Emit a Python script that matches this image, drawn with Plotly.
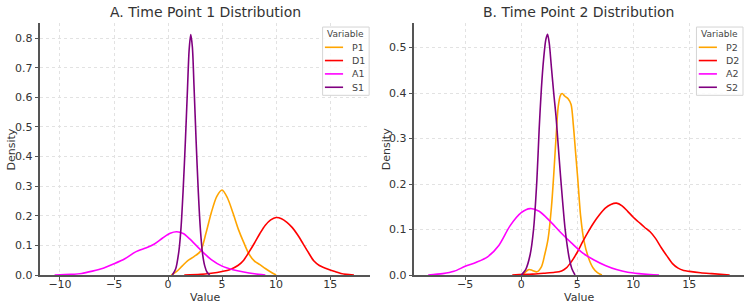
import plotly.graph_objects as go

# ---------------- data ----------------
names_tp1 = ["P1", "D1", "A1", "S1"]
names_tp2 = ["P2", "D2", "A2", "S2"]
series_colors = ["#FFA500", "#FF0000", "#FF00FF", "#800080"]

p1_x = [0.3, 0.8, 1.3, 1.8, 2.4, 3.0, 3.5, 4.0, 4.5, 5.0, 5.5, 6.0, 6.5, 7.0, 7.5, 8.0, 8.5, 9.0, 9.5, 10.0]
p1_y = [0.0, 0.012, 0.03, 0.048, 0.062, 0.08, 0.14, 0.21, 0.265, 0.287, 0.26, 0.21, 0.155, 0.11, 0.07, 0.047, 0.035, 0.022, 0.01, 0.0]

d1_x = [1.5, 3, 4, 5, 5.7, 6.5, 7, 7.5, 8, 8.5, 9, 9.5, 10, 10.5, 11, 11.5, 12, 12.5, 13, 13.5, 14, 14.5, 15, 15.5, 16, 16.5, 17.2]
d1_y = [0.0, 0.002, 0.006, 0.012, 0.018, 0.033, 0.05, 0.078, 0.108, 0.14, 0.168, 0.186, 0.194, 0.19, 0.178, 0.16, 0.135, 0.105, 0.075, 0.047, 0.032, 0.024, 0.017, 0.011, 0.005, 0.002, 0.0]

a1_x = [-10.5, -9, -8, -7, -6, -5, -4, -3, -2, -1.3, -0.5, 0.2, 0.8, 1.4, 2, 3, 4, 5, 6, 7, 8, 9]
a1_y = [0.0, 0.002, 0.005, 0.013, 0.023, 0.038, 0.055, 0.078, 0.092, 0.104, 0.125, 0.141, 0.146, 0.14, 0.122, 0.085, 0.052, 0.030, 0.018, 0.010, 0.004, 0.0]

s1_x = [0.4, 0.7, 1.0, 1.2, 1.4, 1.6, 1.8, 1.95, 2.1, 2.25, 2.4, 2.6, 2.8, 3.0, 3.2, 3.4, 3.6, 3.85]
s1_y = [0.0, 0.02, 0.08, 0.16, 0.29, 0.45, 0.63, 0.76, 0.812, 0.77, 0.64, 0.45, 0.28, 0.15, 0.07, 0.03, 0.01, 0.0]

p2_x = [0.1, 0.4, 0.7, 1.0, 1.4, 1.8, 2.1, 2.4, 2.7, 2.9, 3.1, 3.3, 3.5, 3.65, 3.9, 4.2, 4.45, 4.65, 4.85, 5.05, 5.3, 5.6, 6.0, 6.4, 6.8, 7.2]
p2_y = [0.0, 0.007, 0.012, 0.010, 0.007, 0.018, 0.045, 0.08, 0.15, 0.22, 0.30, 0.37, 0.395, 0.399, 0.393, 0.387, 0.375, 0.33, 0.27, 0.21, 0.13, 0.075, 0.038, 0.016, 0.005, 0.0]

d2_x = [-0.8, 1, 2, 3, 3.6, 4.0, 4.5, 5, 5.5, 6, 6.5, 7, 7.5, 8, 8.5, 9, 9.5, 10, 10.5, 11, 11.5, 12, 12.5, 13, 13.5, 14, 14.5, 15, 16, 17, 18.6]
d2_y = [0.0, 0.002, 0.004, 0.006, 0.009, 0.015, 0.03, 0.050, 0.074, 0.096, 0.116, 0.133, 0.147, 0.155, 0.158, 0.152, 0.14, 0.127, 0.116, 0.105, 0.095, 0.08, 0.06, 0.042, 0.025, 0.015, 0.010, 0.008, 0.005, 0.003, 0.0]

a2_x = [-8.3, -7, -6, -5, -4, -3, -2, -1, 0, 0.8, 1.6, 2.5, 3.5, 4.5, 5.5, 6.5, 7.5, 8.5, 9.5, 10.5, 11.5, 12.3]
a2_y = [0.0, 0.003, 0.008, 0.019, 0.028, 0.040, 0.065, 0.108, 0.137, 0.146, 0.140, 0.120, 0.094, 0.070, 0.048, 0.033, 0.021, 0.012, 0.006, 0.003, 0.001, 0.0]

s2_x = [0.0, 0.4, 0.8, 1.1, 1.4, 1.6, 1.8, 2.0, 2.2, 2.35, 2.5, 2.7, 2.9, 3.1, 3.3, 3.5, 3.7, 3.9, 4.1, 4.3, 4.55, 4.8]
s2_y = [0.0, 0.012, 0.045, 0.10, 0.21, 0.32, 0.41, 0.475, 0.518, 0.529, 0.51, 0.455, 0.40, 0.35, 0.285, 0.22, 0.16, 0.105, 0.065, 0.035, 0.012, 0.0]

panel_titles = ["A. Time Point 1 Distribution", "B. Time Point 2 Distribution"]
legend_title = "Variable"
x_label = "Value"
y_label = "Density"

x_ticks_1 = [-10, -5, 0, 5, 10, 15]
x_ticks_2 = [-5, 0, 5, 10, 15]
y_ticks_1 = [0.0, 0.1, 0.2, 0.3, 0.4, 0.5, 0.6, 0.7, 0.8]
y_ticks_2 = [0.0, 0.1, 0.2, 0.3, 0.4, 0.5]

tp1 = [(p1_x, p1_y), (d1_x, d1_y), (a1_x, a1_y), (s1_x, s1_y)]
tp2 = [(p2_x, p2_y), (d2_x, d2_y), (a2_x, a2_y), (s2_x, s2_y)]

# ---------------- figure ----------------
W, H = 753, 308
FONT = "DejaVu Sans"
TXT = "#333333"
AX = "#555555"

# plot-area geometry in pixels
L, R, T, B = 40.0, 743.7, 22.7, 274.7
GAP_L, GAP_R = 370.0, 413.7
PW = R - L

fig = go.Figure()

for (xs, ys), nm, col in zip(tp1, names_tp1, series_colors):
    fig.add_trace(go.Scatter(x=xs, y=ys, mode="lines", name=nm, showlegend=False,
                             line=dict(color=col, width=1.6, shape="spline", smoothing=0.8),
                             xaxis="x", yaxis="y"))
for (xs, ys), nm, col in zip(tp2, names_tp2, series_colors):
    fig.add_trace(go.Scatter(x=xs, y=ys, mode="lines", name=nm, showlegend=False,
                             line=dict(color=col, width=1.6, shape="spline", smoothing=0.8),
                             xaxis="x2", yaxis="y2"))

dom_x1 = [0, (GAP_L - L) / PW]
dom_x2 = [(GAP_R - L) / PW, 1]

common_x = dict(showline=True, linecolor=AX, linewidth=1.5, ticks="outside", ticklen=3.5,
                tickwidth=1, tickcolor=AX, showgrid=True, gridcolor="#e2e2e2", griddash="dot",
                gridwidth=1, zeroline=False, automargin=False, ticklabelstandoff=-5,
                tickfont=dict(family=FONT, size=11, color=TXT))
common_y = dict(showline=True, linecolor=AX, linewidth=1.5, ticks="outside", ticklen=3.5,
                tickwidth=1, tickcolor=AX, showgrid=True, gridcolor="#e2e2e2", griddash="dot",
                gridwidth=1, zeroline=False, automargin=False, domain=[0, 1],
                tickfont=dict(family=FONT, size=11, color=TXT), tickformat=".1f")

fig.update_layout(
    width=W, height=H,
    margin=dict(l=L, r=W - R, t=T, b=H - B, pad=0, autoexpand=False),
    paper_bgcolor="white", plot_bgcolor="white",
    font=dict(family=FONT, color=TXT),
    showlegend=False,
    xaxis=dict(domain=dom_x1, range=[-11.85, 18.7], tickvals=x_ticks_1, anchor="y", **common_x),
    yaxis=dict(range=[0, 0.851], tickvals=y_ticks_1, anchor="x", **common_y),
    xaxis2=dict(domain=dom_x2, range=[-9.58, 19.88], tickvals=x_ticks_2, anchor="y2", **common_x),
    yaxis2=dict(range=[0, 0.554], tickvals=y_ticks_2, anchor="x2", **common_y),
)

def paper_x(px):
    return (px - L) / PW

def paper_y(py):
    return (B - py) / (B - T)

# panel titles and axis titles
for t, d, ylab_px in zip(panel_titles, [dom_x1, dom_x2], [11.5, 386.0]):
    cx = (d[0] + d[1]) / 2
    fig.add_annotation(text=t, x=cx, y=paper_y(12), xref="paper", yref="paper",
                       xanchor="center", yanchor="middle", showarrow=False,
                       font=dict(family=FONT, size=14, color=TXT))
    fig.add_annotation(text=x_label, x=cx, y=paper_y(297), xref="paper", yref="paper",
                       xanchor="center", yanchor="middle", showarrow=False,
                       font=dict(family=FONT, size=11, color=TXT))
    fig.add_annotation(text=y_label, x=paper_x(ylab_px), y=paper_y(148.7), xref="paper", yref="paper",
                       xanchor="center", yanchor="middle", showarrow=False, textangle=-90,
                       font=dict(family=FONT, size=11, color=TXT))

# legends (drawn per subplot in axis-domain coordinates)
entry_y = [0.9036, 0.851, 0.798, 0.745]
for sub, names in [("", names_tp1), ("2", names_tp2)]:
    xr = "x" + sub + " domain"
    yr = "y" + sub + " domain"
    fig.add_shape(type="rect", xref=xr, yref=yr, x0=0.856, x1=0.997, y0=0.713, y1=0.984,
                  line=dict(color="#d5d5d5", width=1), fillcolor="rgba(255,255,255,0.85)", layer="above")
    fig.add_annotation(text=legend_title, xref=xr, yref=yr, x=0.9265, y=0.956,
                       xanchor="center", yanchor="middle", showarrow=False,
                       font=dict(family=FONT, size=9, color="#444444"))
    for nm, col, yy in zip(names, series_colors, entry_y):
        fig.add_shape(type="line", xref=xr, yref=yr, x0=0.863, x1=0.918, y0=yy, y1=yy,
                      line=dict(color=col, width=1.6), layer="above")
        fig.add_annotation(text=nm, xref=xr, yref=yr, x=0.939, y=yy,
                           xanchor="left", yanchor="middle", showarrow=False,
                           font=dict(family=FONT, size=9.5, color="#444444"))

fig.write_html("out.html", config={"displayModeBar": False},
               post_script="document.body.style.margin='0';document.body.style.overflow='hidden';")
